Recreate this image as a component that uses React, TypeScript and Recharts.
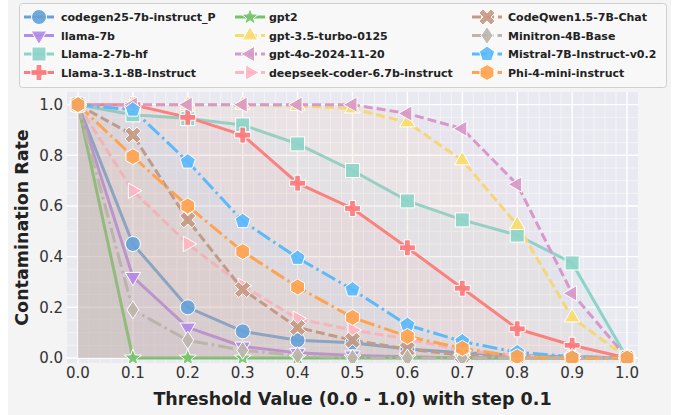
import React from 'react';
import { ComposedChart, Area, XAxis, YAxis, Label } from 'recharts';

// threshold steps (x axis)
const thresholds = [0, 0.1, 0.2, 0.3, 0.4, 0.5, 0.6, 0.7, 0.8, 0.9, 1.0];
const xTicks = [0, 0.1, 0.2, 0.3, 0.4, 0.5, 0.6, 0.7, 0.8, 0.9, 1.0];
const yTicks = [0, 0.2, 0.4, 0.6, 0.8, 1.0];
const xMinor = [0.02, 0.04, 0.06, 0.08, 0.12, 0.14, 0.16, 0.18, 0.22, 0.24, 0.26, 0.28, 0.32, 0.34, 0.36, 0.38,
  0.42, 0.44, 0.46, 0.48, 0.52, 0.54, 0.56, 0.58, 0.62, 0.64, 0.66, 0.68, 0.72, 0.74, 0.76, 0.78,
  0.82, 0.84, 0.86, 0.88, 0.92, 0.94, 0.96, 0.98];
const yMinor = [0.05, 0.1, 0.15, 0.25, 0.3, 0.35, 0.45, 0.5, 0.55, 0.65, 0.7, 0.75, 0.85, 0.9, 0.95];
const xDomain = [-0.02, 1.02];
const yDomain = [-0.02, 1.05];

// contamination rate per model
const codegen25 = [1.0, 0.45, 0.2, 0.105, 0.07, 0.06, 0.035, 0.02, 0.01, 0.005, 0.0];
const llama7b = [1.0, 0.32, 0.12, 0.045, 0.02, 0.01, 0.005, 0.0, 0.0, 0.0, 0.0];
const llama2 = [1.0, 0.96, 0.945, 0.92, 0.845, 0.74, 0.62, 0.545, 0.485, 0.375, 0.0];
const llama31 = [1.0, 1.0, 0.95, 0.88, 0.69, 0.59, 0.435, 0.275, 0.115, 0.05, 0.0];
const gpt2 = [1.0, 0.0, 0.0, 0.0, 0.0, 0.0, 0.0, 0.0, 0.0, 0.0, 0.0];
const gpt35 = [1.0, 1.0, 1.0, 1.0, 0.995, 0.985, 0.93, 0.78, 0.525, 0.16, 0.0];
const gpt4o = [1.0, 1.0, 1.0, 1.0, 1.0, 1.0, 0.965, 0.905, 0.685, 0.255, 0.0];
const deepseek = [1.0, 0.66, 0.45, 0.285, 0.155, 0.11, 0.075, 0.03, 0.01, 0.0, 0.0];
const codeqwen = [1.0, 0.88, 0.545, 0.27, 0.12, 0.07, 0.035, 0.01, 0.005, 0.0, 0.0];
const minitron = [1.0, 0.19, 0.07, 0.03, 0.01, 0.0, 0.0, 0.0, 0.0, 0.0, 0.0];
const mistral = [1.0, 0.98, 0.775, 0.54, 0.395, 0.27, 0.13, 0.065, 0.022, 0.005, 0.0];
const phi4 = [1.0, 0.795, 0.6, 0.42, 0.28, 0.16, 0.085, 0.038, 0.005, 0.0, 0.0];

const DASH = '9 4';
const DASHDOT = '15 4 2.5 4';

const series = [
  { key: 'codegen25', name: 'codegen25-7b-instruct_P', values: codegen25, color: '#66a2d8', dash: undefined, shape: 'circle' },
  { key: 'llama7b', name: 'llama-7b', values: llama7b, color: '#b38be8', dash: undefined, shape: 'tridown' },
  { key: 'llama2', name: 'Llama-2-7b-hf', values: llama2, color: '#8dd4c8', dash: undefined, shape: 'square' },
  { key: 'llama31', name: 'Llama-3.1-8B-Instruct', values: llama31, color: '#fd7b7d', dash: undefined, shape: 'plus' },
  { key: 'gpt2', name: 'gpt2', values: gpt2, color: '#76c46a', dash: undefined, shape: 'star' },
  { key: 'gpt35', name: 'gpt-3.5-turbo-0125', values: gpt35, color: '#f7dc6e', dash: DASH, shape: 'triup' },
  { key: 'gpt4o', name: 'gpt-4o-2024-11-20', values: gpt4o, color: '#d898c8', dash: DASH, shape: 'trileft' },
  { key: 'deepseek', name: 'deepseek-coder-6.7b-instruct', values: deepseek, color: '#ffb5c2', dash: DASH, shape: 'triright' },
  { key: 'codeqwen', name: 'CodeQwen1.5-7B-Chat', values: codeqwen, color: '#c59a84', dash: DASH, shape: 'x' },
  { key: 'minitron', name: 'Minitron-4B-Base', values: minitron, color: '#bdb5ad', dash: DASHDOT, shape: 'diamond' },
  { key: 'mistral', name: 'Mistral-7B-Instruct-v0.2', values: mistral, color: '#5bbafa', dash: DASHDOT, shape: 'pentagon' },
  { key: 'phi4', name: 'Phi-4-mini-instruct', values: phi4, color: '#ffa34f', dash: DASHDOT, shape: 'hexagon' },
];

const data = thresholds.map((x, i) => {
  const row: any = { x };
  series.forEach((s) => { row[s.key] = s.values[i]; });
  return row;
});

const W = 678;
const H = 415;
const MARGIN = { top: 92, right: 40, bottom: 2, left: 17 };
const Y_AXIS_W = 50;
const X_AXIS_H = 50;
// plot box as the chart lays it out (margin + axis sizes)
const PLOT = {
  left: MARGIN.left + Y_AXIS_W,
  top: MARGIN.top,
  width: W - MARGIN.left - Y_AXIS_W - MARGIN.right,
  height: H - MARGIN.top - MARGIN.bottom - X_AXIS_H,
};
const gx = (v: number) => PLOT.left + ((v - xDomain[0]) / (xDomain[1] - xDomain[0])) * PLOT.width;
const gy = (v: number) => PLOT.top + (1 - (v - yDomain[0]) / (yDomain[1] - yDomain[0])) * PLOT.height;

const poly = (cx: number, cy: number, r: number, n: number, rot: number) =>
  Array.from({ length: n }, (_, k) => {
    const a = rot + (k * 2 * Math.PI) / n;
    return `${cx + r * Math.cos(a)},${cy + r * Math.sin(a)}`;
  }).join(' ');

const crossPts = (a: number, b: number) =>
  [[-a, -b], [a, -b], [a, -a], [b, -a], [b, a], [a, a], [a, b], [-a, b], [-a, a], [-b, a], [-b, -a], [-a, -a]];

const Marker = ({ cx, cy, shape, color }: any) => {
  if (cx == null || cy == null) return null;
  const p = { fill: color, stroke: '#ffffff', strokeWidth: 1, fillOpacity: 0.92 };
  switch (shape) {
    case 'circle':
      return <circle cx={cx} cy={cy} r={7.5} {...p} />;
    case 'square':
      return <rect x={cx - 7} y={cy - 7} width={14} height={14} {...p} />;
    case 'tridown':
      return <polygon points={poly(cx, cy, 9, 3, Math.PI / 2)} {...p} />;
    case 'triup':
      return <polygon points={poly(cx, cy, 9, 3, -Math.PI / 2)} {...p} />;
    case 'trileft':
      return <polygon points={poly(cx, cy, 9, 3, Math.PI)} {...p} />;
    case 'triright':
      return <polygon points={poly(cx, cy, 9, 3, 0)} {...p} />;
    case 'pentagon':
      return <polygon points={poly(cx, cy, 8, 5, -Math.PI / 2)} {...p} />;
    case 'hexagon':
      return <polygon points={poly(cx, cy, 8, 6, -Math.PI / 2)} {...p} />;
    case 'diamond':
      return <polygon points={`${cx},${cy - 9} ${cx + 6},${cy} ${cx},${cy + 9} ${cx - 6},${cy}`} {...p} />;
    case 'star': {
      const pts = Array.from({ length: 10 }, (_, k) => {
        const r = k % 2 === 0 ? 9 : 3.8;
        const a = -Math.PI / 2 + (k * Math.PI) / 5;
        return `${cx + r * Math.cos(a)},${cy + r * Math.sin(a)}`;
      }).join(' ');
      return <polygon points={pts} {...p} />;
    }
    case 'plus': {
      const pts = crossPts(2.9, 8).map(([dx, dy]) => `${cx + dx},${cy + dy}`).join(' ');
      return <polygon points={pts} {...p} />;
    }
    case 'x': {
      const c = Math.SQRT1_2;
      const pts = crossPts(2.9, 8.5).map(([dx, dy]) => `${cx + (dx - dy) * c},${cy + (dx + dy) * c}`).join(' ');
      return <polygon points={pts} {...p} />;
    }
    default:
      return null;
  }
};

const LegendBox = () => {
  const cols = [
    { mx: 39, tx: 61 },
    { mx: 250, tx: 269 },
    { mx: 487, tx: 508 },
  ];
  const rows = [17, 35.5, 54, 72.5];
  return (
    <svg width={W} height={92} style={{ position: 'absolute', left: 0, top: 0 }}>
      <rect x={19.5} y={3.5} width={647} height={84} rx={3} fill="#f8f8f8" stroke="#cfcfcf" strokeWidth={1} />
      {series.map((s, i) => {
        const col = cols[Math.floor(i / 4)];
        const y = rows[i % 4];
        return (
          <g key={s.key}>
            <line x1={col.mx - 15} x2={col.mx + 15} y1={y} y2={y} stroke={s.color} strokeWidth={3} strokeDasharray={s.dash} />
            <Marker cx={col.mx} cy={y} shape={s.shape} color={s.color} />
            <text x={col.tx} y={y + 4} fontFamily="DejaVu Sans" fontWeight="bold" fontSize={11} fill="#222">{s.name}</text>
          </g>
        );
      })}
    </svg>
  );
};

// plot face and white grid behind the chart
const GridLayer = () => (
  <svg width={W} height={H} style={{ position: 'absolute', left: 0, top: 0 }}>
    <rect x={PLOT.left} y={PLOT.top} width={PLOT.width} height={PLOT.height} fill="#e9e9f1" />
    {xMinor.map((v) => <line key={`xm${v}`} x1={gx(v)} x2={gx(v)} y1={PLOT.top} y2={PLOT.top + PLOT.height} stroke="#ffffff" strokeOpacity={0.6} strokeWidth={0.8} />)}
    {yMinor.map((v) => <line key={`ym${v}`} y1={gy(v)} y2={gy(v)} x1={PLOT.left} x2={PLOT.left + PLOT.width} stroke="#ffffff" strokeOpacity={0.6} strokeWidth={0.8} />)}
    {xTicks.map((v) => <line key={`xM${v}`} x1={gx(v)} x2={gx(v)} y1={PLOT.top} y2={PLOT.top + PLOT.height} stroke="#ffffff" strokeWidth={1.4} />)}
    {yTicks.map((v) => <line key={`yM${v}`} y1={gy(v)} y2={gy(v)} x1={PLOT.left} x2={PLOT.left + PLOT.width} stroke="#ffffff" strokeWidth={1.4} />)}
  </svg>
);

export default function App() {
  const tickStyle = { fontFamily: 'DejaVu Sans', fontSize: 15, fill: '#333' };
  const labelStyle = { fontFamily: 'DejaVu Sans', fontWeight: 'bold', fontSize: 17.5, fill: '#222' };
  return (
    <div style={{ position: 'absolute', left: 0, top: 0, width: W, height: H, background: '#ffffff', overflow: 'hidden' }}>
      <div style={{ position: 'absolute', left: 8, top: 0, width: 663, height: H, background: '#f4f4f4' }} />
      <GridLayer />
      <div style={{ position: 'absolute', left: 0, top: 0 }}>
        <ComposedChart width={W} height={H} data={data} margin={MARGIN}>
          <XAxis type="number" dataKey="x" domain={xDomain} ticks={xTicks} allowDataOverflow
            tickFormatter={(v: number) => v.toFixed(1)} tick={tickStyle} tickLine={false} axisLine={false}
            tickSize={0} height={X_AXIS_H} tickMargin={4}>
            <Label value="Threshold Value (0.0 - 1.0) with step 0.1" position="insideBottom" offset={8} style={labelStyle} />
          </XAxis>
          <YAxis type="number" domain={yDomain} ticks={yTicks} allowDataOverflow
            tickFormatter={(v: number) => v.toFixed(1)} tick={tickStyle} tickLine={false} axisLine={false}
            tickSize={0} width={Y_AXIS_W} tickMargin={4}>
            <Label value="Contamination Rate" angle={-90} position="insideLeft" offset={5}
              style={{ ...labelStyle, textAnchor: 'middle' }} />
          </YAxis>
          {series.map((s) => (
            <Area key={s.key} type="linear" dataKey={s.key} name={s.name} baseValue={0}
              stroke={s.color} strokeWidth={3} strokeDasharray={s.dash} fill={s.color} fillOpacity={0.06}
              dot={(props: any) => <Marker key={`${s.key}-${props.index}`} cx={props.cx} cy={props.cy} shape={s.shape} color={s.color} />}
              activeDot={false} isAnimationActive={false} />
          ))}
        </ComposedChart>
      </div>
      <LegendBox />
    </div>
  );
}
